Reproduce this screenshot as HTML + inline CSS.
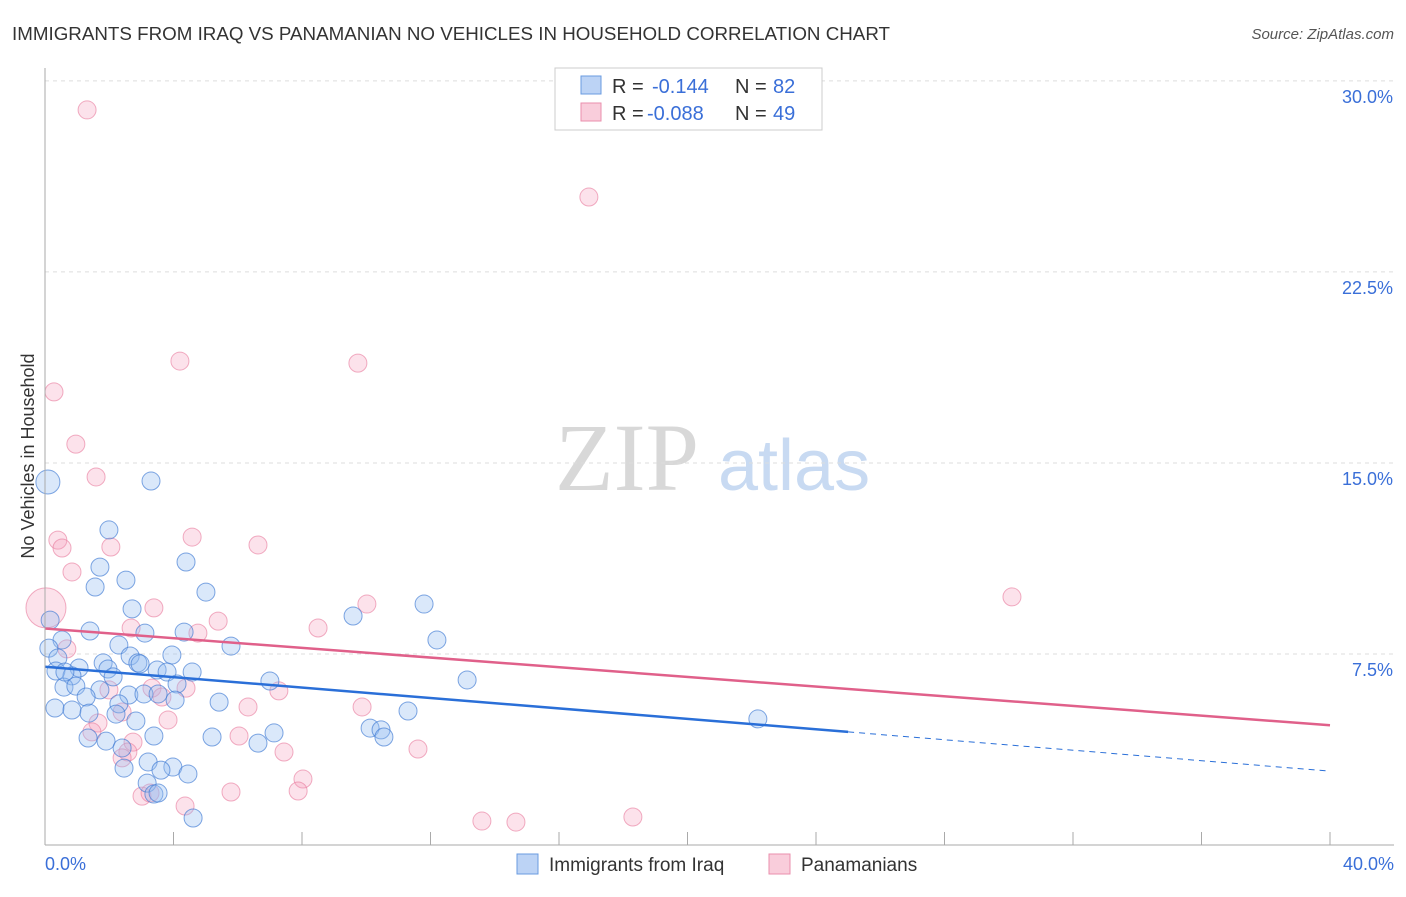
<!DOCTYPE html>
<html><head><meta charset="utf-8"><style>
body{margin:0;background:#fff;font-family:"Liberation Sans",sans-serif}
svg text{font-family:"Liberation Sans",sans-serif}
</style></head><body>
<svg width="1406" height="892" id="c">
<text x="12" y="40" font-size="18" fill="#333" textLength="878" lengthAdjust="spacingAndGlyphs">IMMIGRANTS FROM IRAQ VS PANAMANIAN NO VEHICLES IN HOUSEHOLD CORRELATION CHART</text>
<text x="1394" y="39" font-size="15" fill="#555" font-style="italic" text-anchor="end">Source: ZipAtlas.com</text>
<text x="555" y="490" font-size="96" fill="#d8d8d8" style="font-family:'Liberation Serif',serif">ZIP</text>
<text x="718" y="490" font-size="72" fill="#c8daf2">atlas</text>
<text transform="translate(34,456) rotate(-90)" font-size="18" fill="#333" text-anchor="middle">No Vehicles in Household</text>
<g id="grid"></g><g id="marks"></g><g id="axes"></g>
<g>
<rect x="555" y="68" width="267" height="62" fill="#fff" stroke="#ccc"/>
<rect x="581" y="76" width="20" height="18" fill="#bcd3f5" stroke="#6a9be0"/>
<rect x="581" y="103" width="20" height="18" fill="#f9cddb" stroke="#ea8fac"/>
<text x="612" y="93" font-size="20" fill="#333">R = <tspan x="652" fill="#3a6fd8">-0.144</tspan><tspan x="735">N = </tspan><tspan x="773" fill="#3a6fd8">82</tspan></text>
<text x="612" y="120" font-size="20" fill="#333">R = <tspan x="647" fill="#3a6fd8">-0.088</tspan><tspan x="735">N = </tspan><tspan x="773" fill="#3a6fd8">49</tspan></text>
</g>
<g>
<rect x="517" y="854" width="21" height="20" fill="#bcd3f5" stroke="#6a9be0"/>
<text x="549" y="871" font-size="19" fill="#333">Immigrants from Iraq</text>
<rect x="769" y="854" width="21" height="20" fill="#f9cddb" stroke="#ea8fac"/>
<text x="801" y="871" font-size="19" fill="#333">Panamanians</text>
</g>
</svg>
<script>
const blueX=[0.09,3.30,1.99,1.71,1.56,2.52,4.39,5.01,2.71,9.59,11.80,12.20,1.40,3.11,4.33,0.16,0.53,5.79,2.30,2.65,2.89,3.95,0.12,0.40,1.81,1.06,1.96,3.49,3.80,4.58,0.34,0.84,0.59,0.96,1.71,4.11,2.12,7.00,13.14,2.61,3.08,3.52,4.05,5.42,1.28,0.31,0.84,1.37,2.30,2.21,2.83,11.30,22.19,3.39,1.34,1.90,5.20,6.63,7.13,10.12,10.46,10.55,2.40,3.21,3.98,4.45,2.46,3.61,3.18,3.39,3.52,4.61,2.96,0.62];
const blueY=[14.25,14.29,12.37,10.91,10.13,10.40,11.11,9.93,9.27,8.99,9.46,8.05,8.40,8.32,8.36,8.83,8.05,7.81,7.85,7.42,7.15,7.46,7.73,7.34,7.15,6.95,6.91,6.87,6.79,6.79,6.83,6.64,6.20,6.24,6.09,6.32,6.60,6.44,6.48,5.89,5.93,5.93,5.69,5.61,5.81,5.38,5.30,5.18,5.54,5.14,4.87,5.26,4.95,4.28,4.20,4.08,4.24,4.00,4.40,4.59,4.52,4.24,3.81,3.26,3.06,2.79,3.02,2.94,2.43,2.00,2.04,1.06,7.11,6.79];
const pinkX=[1.31,16.93,4.20,9.74,0.28,0.96,1.59,0.40,0.53,0.84,2.05,4.58,6.63,30.10,10.02,3.39,0.03,5.39,2.68,8.50,0.68,4.76,1.99,3.33,4.39,7.28,3.64,3.83,6.32,9.87,2.40,1.65,1.46,6.04,2.74,2.58,2.40,7.44,11.61,8.03,7.88,5.79,3.02,3.27,4.36,13.60,14.66,18.30];
const pinkY=[28.86,25.44,19.00,18.92,17.79,15.74,14.45,11.97,11.66,10.72,11.70,12.09,11.78,9.74,9.46,9.31,9.31,8.79,8.52,8.52,7.70,8.32,6.09,6.16,6.16,6.05,5.81,4.91,5.42,5.42,5.22,4.79,4.44,4.28,4.04,3.65,3.42,3.65,3.77,2.59,2.12,2.08,1.92,2.04,1.53,0.94,0.90,1.10];
const blueTrend=[[0,7.0],[25.0,4.44],[40,2.9]];
const pinkTrend=[[0,8.5],[40,4.7]];
const yTicks=[7.5,15,22.5,30];
const yTickLabels=["7.5%","15.0%","22.5%","30.0%"];
const xTicks=[0,4,8,12,16,20,24,28,32,36,40];
const NS="http://www.w3.org/2000/svg";
const sx=v=>45+v*32.125, sy=v=>845-v*25.47;
function mk(t,a,p){const e=document.createElementNS(NS,t);for(const k in a)e.setAttribute(k,a[k]);p.appendChild(e);return e;}
const grid=document.getElementById('grid'),marks=document.getElementById('marks'),axes=document.getElementById('axes');
yTicks.forEach((v,i)=>{
 const l=mk('line',{x1:45,x2:1394,y1:sy(v),y2:sy(v),stroke:'#ddd','stroke-dasharray':'4,4'},grid);
 
 
 const t=mk('text',{x:1393,y:sy(v)+22,'font-size':18,fill:'#3a6fd8','text-anchor':'end'},axes);t.textContent=yTickLabels[i];
 
 
});
xTicks.forEach(v=>{
 const l=mk('line',{x1:sx(v),x2:sx(v),y1:832,y2:845,stroke:'#aaa'},axes);
 
 
});
mk('line',{x1:45,x2:45,y1:68,y2:845,stroke:'#aaa'},axes);
mk('line',{x1:45,x2:1394,y1:845,y2:845,stroke:'#aaa'},axes);
let t=mk('text',{x:45,y:870,'font-size':18,fill:'#3a6fd8'},axes);t.textContent='0.0%';


t=mk('text',{x:1394,y:870,'font-size':18,fill:'#3a6fd8','text-anchor':'end'},axes);t.textContent='40.0%';


pinkX.forEach((x,i)=>{
 const c=mk('circle',{cx:sx(x),cy:sy(pinkY[i]),r:i==16?20:9,fill:'rgba(244,160,190,0.3)',stroke:'rgba(232,120,155,0.6)'},marks);
 
 
});
blueX.forEach((x,i)=>{
 const c=mk('circle',{cx:sx(x),cy:sy(blueY[i]),r:i==0?12:9,fill:'rgba(150,190,240,0.35)',stroke:'rgba(60,120,210,0.65)'},marks);
 
 
});
let l=mk('line',{x1:sx(blueTrend[0][0]),y1:sy(blueTrend[0][1]),x2:sx(blueTrend[1][0]),y2:sy(blueTrend[1][1]),stroke:'#2a6fd8','stroke-width':2.5},marks);


l=mk('line',{x1:sx(blueTrend[1][0]),y1:sy(blueTrend[1][1]),x2:sx(blueTrend[2][0]),y2:sy(blueTrend[2][1]),stroke:'#2a6fd8','stroke-width':1,'stroke-dasharray':'6,5'},marks);


l=mk('line',{x1:sx(pinkTrend[0][0]),y1:sy(pinkTrend[0][1]),x2:sx(pinkTrend[1][0]),y2:sy(pinkTrend[1][1]),stroke:'#e0608a','stroke-width':2.5},marks);


</script>
</body></html>
